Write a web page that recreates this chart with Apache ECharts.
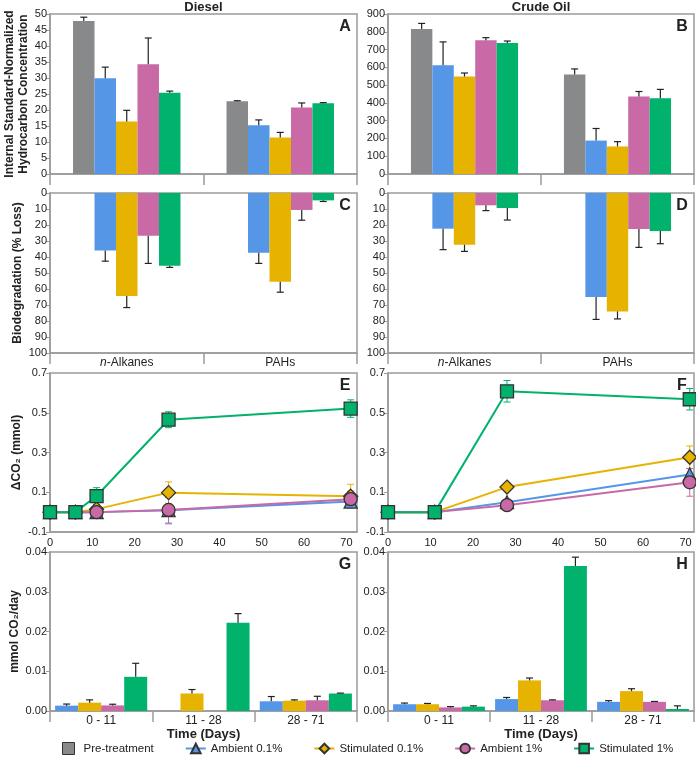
<!DOCTYPE html>
<html><head><meta charset="utf-8">
<script src="https://cdn.jsdelivr.net/npm/echarts@6/dist/echarts.min.js"></script>
<style>html,body{margin:0;padding:0;background:#fff}#c{width:696px;height:760px}</style>
</head><body><div id="c"></div>
<script>
// ---------- categories / names ----------
const seriesNames = ['Pre-treatment','Ambient 0.1%','Stimulated 0.1%','Ambient 1%','Stimulated 1%'];
const fractionCats = ['n-Alkanes','PAHs'];
const periodCats = ['0 - 11','11 - 28','28 - 71'];

// ---------- Panel A: Diesel, normalized concentration (per series: [n-Alkanes, PAHs]) ----------
const concDiesel    = [[47.8,22.7],[29.9,15.2],[16.4,11.4],[34.3,20.8],[25.4,22.1]];
const concDieselErr = [[1.2,0.2],[3.5,1.7],[3.5,1.6],[8.2,1.4],[0.5,0.2]];
// ---------- Panel B: Crude oil, normalized concentration ----------
const concCrude     = [[815,559],[612,188],[548,155],[752,436],[737,426]];
const concCrudeErr  = [[32,32],[131,68],[20,27],[15,28],[11,50]];
// ---------- Panel C: Diesel biodegradation (% loss) ----------
const bioDiesel     = [[null,null],[36.0,37.3],[64.4,55.4],[26.7,10.6],[45.4,4.6]];
const bioDieselErr  = [[0,0],[6.6,6.7],[7.2,6.6],[17.3,6.4],[1.1,0.7]];
// ---------- Panel D: Crude oil biodegradation (% loss) ----------
const bioCrude      = [[null,null],[22.3,65.0],[32.3,74.0],[7.7,22.5],[9.4,23.8]];
const bioCrudeErr   = [[0,0],[13.1,14.0],[4.2,4.7],[3.3,11.5],[7.5,7.9]];
// ---------- Panel E: Diesel cumulative ΔCO2 (series: Amb0.1, Stim0.1, Amb1, Stim1) ----------
const daysDiesel    = [0,6,11,28,71];
const co2Diesel     = [[0,0,0,0.010,0.053],[0,0,0.015,0.098,0.080],[0,0,0,0.011,0.065],[0,0,0.081,0.465,0.521]];
const co2DieselErr  = [[0,0,0,0.065,0.025],[0,0,0.010,0.054,0.060],[0,0,0,0.070,0.040],[0,0,0.042,0.040,0.044]];
// ---------- Panel F: Crude oil cumulative ΔCO2 ----------
const daysCrude     = [0,11,28,71];
const co2Crude      = [[0,0,0.050,0.189],[0,0,0.126,0.276],[0,0,0.035,0.150],[0,0,0.608,0.568]];
const co2CrudeErr   = [[0,0,0.010,0.030],[0,0,0.010,0.057],[0,0,0.010,0.070],[0,0,0.054,0.054]];
// ---------- Panel G: Diesel CO2 rate (series: Amb0.1, Stim0.1, Amb1, Stim1; per period) ----------
const rateDiesel    = [[0.00135,null,0.00244],[0.0021,0.0044,0.0026],[0.0014,null,0.0027],[0.0086,0.0222,0.0044]];
const rateDieselErr = [[0.0004,0,0.0012],[0.0007,0.0010,0.0002],[0.0003,0,0.0010],[0.0034,0.0023,0.0001]];
// ---------- Panel H: Crude oil CO2 rate ----------
const rateCrude     = [[0.0017,0.0030,0.0023],[0.0017,0.0077,0.0050],[0.0009,0.0027,0.0023],[0.0011,0.0365,0.0005]];
const rateCrudeErr  = [[0.0003,0.0004,0.0003],[0.0002,0.0006,0.0006],[0.0002,0.0001,0.0001],[0.0002,0.0022,0.0008]];

// ---------- styling / layout ----------
const COLORS = ['#88898b','#5596e6','#e5b300','#c969a6','#00b26c'];
const SYMBOLS = ['triangle','diamond','circle','rect'];
const SYMSIZE = [13,14,13,13];
const AXIS = '#9a9a9a';
const TXT = '#222';
const FONT = '"Liberation Sans", Arial, sans-serif';
const COLS = [{left:50,width:307},{left:388,width:306}];
const ROWS = [{top:14,height:160},{top:193,height:160},{top:373,height:159},{top:552,height:159}];

const grids = [];
ROWS.forEach(r => COLS.forEach(c => grids.push({left:c.left, top:r.top, width:c.width, height:r.height,
  show:true, borderColor:AXIS, borderWidth:1.5, backgroundColor:'transparent', containLabel:false, outerBoundsMode:'none'})));

function catAxis(g, data, showLabel, name) {
  return {
    type:'category', gridIndex:g, data, position:'bottom', boundaryGap:true,
    axisLine:{show:true, onZero:false, lineStyle:{color:AXIS, width:1.5}},
    axisTick:{show:true, alignWithLabel:false, interval:0, length:11, lineStyle:{color:AXIS, width:1.5}},
    axisLabel:{show:showLabel, interval:0, margin:4, color:TXT, fontSize:12, fontFamily:FONT,
      formatter: v => v === 'n-Alkanes' ? '{i|n}-Alkanes' : v,
      rich:{i:{fontStyle:'italic', fontSize:12, color:TXT, fontFamily:FONT}}},
    name: name || '', nameLocation:'middle', nameGap:15,
    nameTextStyle:{fontWeight:'bold', fontSize:13, color:TXT, fontFamily:FONT},
    splitLine:{show:false}
  };
}
function valAxis(g, min, max, interval, fmt, opts) {
  return Object.assign({
    type:'value', gridIndex:g, min, max, interval,
    axisLine:{show:true, onZero:false, lineStyle:{color:AXIS, width:1.5}},
    axisTick:{show:true, length:4, lineStyle:{color:AXIS}},
    splitLine:{show:false},
    axisLabel:{color:TXT, fontSize:11, fontFamily:FONT, margin:3, formatter:fmt},
    nameLocation:'middle', nameRotate:90,
    nameTextStyle:{fontWeight:'bold', fontSize:12, color:TXT, fontFamily:FONT, lineHeight:14}
  }, opts || {});
}
const dayFmt = v => (Math.abs(v % 10) < 1e-9 ? String(v) : '');
const dayAxis = (g, max) => valAxis(g, 0, max, 10, dayFmt, {axisTick:{show:false},
  axisLabel:{color:TXT, fontSize:11, fontFamily:FONT, margin:5, formatter:dayFmt}});

const xAxes = [
  catAxis(0, fractionCats, false), catAxis(1, fractionCats, false),
  catAxis(2, fractionCats, true),  catAxis(3, fractionCats, true),
  dayAxis(4, 72.5), dayAxis(5, 72),
  catAxis(6, periodCats, true, 'Time (Days)'), catAxis(7, periodCats, true, 'Time (Days)')
];
const yAxes = [
  valAxis(0, 0, 50, 5, v => String(v), {name:'Internal Standard-Normalized\nHydrocarbon Concentration', nameGap:19}),
  valAxis(1, 0, 900, 100, v => String(v)),
  valAxis(2, 0, 100, 10, v => String(v), {inverse:true, name:'Biodegradation (% Loss)', nameGap:25}),
  valAxis(3, 0, 100, 10, v => String(v), {inverse:true}),
  valAxis(4, -0.1, 0.7, 0.2, v => v.toFixed(1), {name:'ΔCO₂ (mmol)', nameGap:22}),
  valAxis(5, -0.1, 0.7, 0.2, v => v.toFixed(1)),
  valAxis(6, 0, 0.04, 0.01, v => v.toFixed(2), {name:'mmol CO₂/day', nameGap:25}),
  valAxis(7, 0, 0.04, 0.01, v => v.toFixed(2))
];

const series = [];
// line series first (legend picks first series per name)
function addLines(g, days, vals, errs) {
  vals.forEach((arr, k) => {
    const col = COLORS[k + 1];
    series.push({
      type:'line', name:seriesNames[k + 1], xAxisIndex:g, yAxisIndex:g, z:4 + k * 0.1,
      data: days.map((d, i) => [d, arr[i]]),
      symbol:SYMBOLS[k], symbolSize:SYMSIZE[k],
      itemStyle:{color:col, borderColor:'#333', borderWidth:1.3},
      lineStyle:{color:col, width:2}, emphasis:{disabled:true}
    });
  });
  vals.forEach((arr, k) => {
    const col = COLORS[k + 1];
    const data = [];
    days.forEach((d, i) => { if (errs[k][i] > 0) data.push([d, arr[i] - errs[k][i], arr[i] + errs[k][i]]); });
    series.push({
      type:'custom', xAxisIndex:g, yAxisIndex:g, z:3, silent:true, data, encode:{x:0, y:[1,2]},
      renderItem(p, api) {
        const lo = api.coord([api.value(0), api.value(1)]);
        const hi = api.coord([api.value(0), api.value(2)]);
        const st = {stroke:col, lineWidth:1};
        return {type:'group', children:[
          {type:'line', shape:{x1:lo[0], y1:lo[1], x2:hi[0], y2:hi[1]}, style:st},
          {type:'line', shape:{x1:hi[0]-3.5, y1:hi[1], x2:hi[0]+3.5, y2:hi[1]}, style:st},
          {type:'line', shape:{x1:lo[0]-3.5, y1:lo[1], x2:lo[0]+3.5, y2:lo[1]}, style:st}
        ]};
      }
    });
  });
}
addLines(4, daysDiesel, co2Diesel, co2DieselErr);
addLines(5, daysCrude, co2Crude, co2CrudeErr);

function addBars(g, vals, errs, firstColor, gapRatio) {
  const n = vals.length;
  vals.forEach((arr, k) => {
    series.push({
      type:'bar', name:seriesNames[k + firstColor], xAxisIndex:g, yAxisIndex:g, data:arr,
      barGap:'0%', barCategoryGap:(gapRatio * 100) + '%',
      itemStyle:{color:COLORS[k + firstColor]}, emphasis:{disabled:true}
    });
  });
  const data = [];
  vals.forEach((arr, si) => arr.forEach((v, ci) => {
    const e = errs[si][ci];
    if (v != null && e > 0) data.push([ci, si, v, e]);
  }));
  series.push({
    type:'custom', xAxisIndex:g, yAxisIndex:g, z:5, silent:true, data, encode:{x:0, y:2},
    renderItem(p, api) {
      const ci = api.value(0), si = api.value(1), v = api.value(2), e = api.value(3);
      const p0 = api.coord([ci, v]), p1 = api.coord([ci, v + e]);
      const band = api.size([1, 0])[0];
      const groupW = band * (1 - gapRatio);
      const bw = groupW / n;
      const x = p0[0] - groupW / 2 + bw * (si + 0.5);
      const st = {stroke:'#222', lineWidth:1.2};
      return {type:'group', children:[
        {type:'line', shape:{x1:x, y1:p0[1], x2:x, y2:p1[1]}, style:st},
        {type:'line', shape:{x1:x-3.5, y1:p1[1], x2:x+3.5, y2:p1[1]}, style:st}
      ]};
    }
  });
}
addBars(0, concDiesel, concDieselErr, 0, 0.3);
addBars(1, concCrude, concCrudeErr, 0, 0.3);
addBars(2, bioDiesel, bioDieselErr, 0, 0.3);
addBars(3, bioCrude, bioCrudeErr, 0, 0.3);
addBars(6, rateDiesel, rateDieselErr, 1, 0.1);
addBars(7, rateCrude, rateCrudeErr, 1, 0.1);

// ---------- texts ----------
const graphic = [];
const titleTxt = (x, y, t) => ({type:'text', x, y, silent:true,
  style:{text:t, fill:TXT, fontFamily:FONT, fontSize:13, fontWeight:'bold', align:'center', verticalAlign:'middle'}});
graphic.push(titleTxt(COLS[0].left + COLS[0].width / 2, 7, 'Diesel'));
graphic.push(titleTxt(COLS[1].left + COLS[1].width / 2, 7, 'Crude Oil'));
'ABCDEFGH'.split('').forEach((L, i) => {
  const g = grids[i];
  graphic.push({type:'text', x:g.left + g.width - 12, y:g.top + 13, silent:true,
    style:{text:L, fill:TXT, fontFamily:FONT, fontSize:16, fontWeight:'bold', align:'center', verticalAlign:'middle'}});
});

const option = {
  animation:false,
  backgroundColor:'#fff',
  textStyle:{fontFamily:FONT},
  grid:grids, xAxis:xAxes, yAxis:yAxes, series, graphic,
  legend:{
    top:742, left:62, width:634, itemGap:31, itemWidth:20, itemHeight:12, padding:0,
    textStyle:{fontSize:11.5, color:TXT, fontFamily:FONT},
    data:[
      {name:'Pre-treatment', icon:'path://M0,0L10,0L10,10L0,10Z', itemStyle:{color:COLORS[0], borderColor:'#333', borderWidth:1}},
      'Ambient 0.1%','Stimulated 0.1%','Ambient 1%','Stimulated 1%'
    ]
  }
};
const chart = echarts.init(document.getElementById('c'), null, {renderer:'canvas'});
chart.setOption(option);
</script></body></html>
